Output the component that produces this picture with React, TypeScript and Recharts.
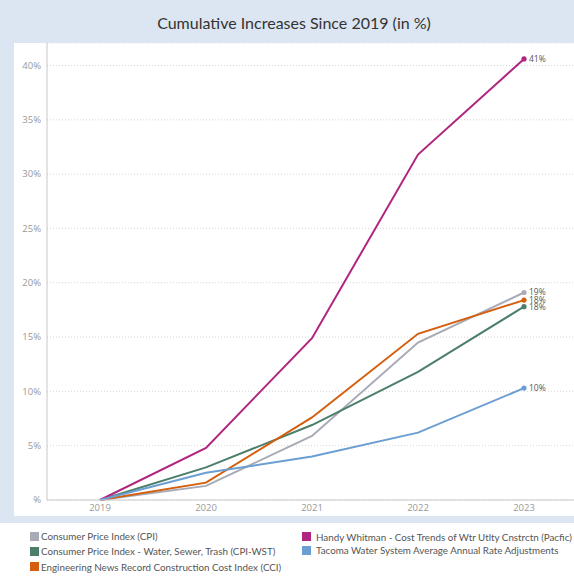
import React from "react";
import { LineChart, Line, XAxis, YAxis, CartesianGrid } from "recharts";

const years = ["2019", "2020", "2021", "2022", "2023"];
const cpi = [0, 1.3, 5.9, 14.5, 19.1];
const handyWhitman = [0, 4.8, 14.9, 31.8, 40.6];
const cpiWst = [0, 3.0, 6.9, 11.8, 17.8];
const cci = [0, 1.6, 7.6, 15.3, 18.4];
const tacoma = [0, 2.5, 4.0, 6.2, 10.3];
const yTicks = [0, 5, 10, 15, 20, 25, 30, 35, 40];

const seriesDefs = [
  { key: "cpi", name: "Consumer Price Index (CPI)", color: "#a8abb6", values: cpi },
  { key: "wst", name: "Consumer Price Index - Water, Sewer, Trash (CPI-WST)", color: "#4b7f6a", values: cpiWst },
  { key: "cci", name: "Engineering News Record Construction Cost Index (CCI)", color: "#d35e0e", values: cci },
  { key: "hw", name: "Handy Whitman - Cost Trends of Wtr Utlty Cnstrctn (Pacfic)", color: "#b0267f", values: handyWhitman },
  { key: "tac", name: "Tacoma Water System Average Annual Rate Adjustments", color: "#6b9ed2", values: tacoma },
];

const data = years.map((y, i) => {
  const row: Record<string, any> = { year: y };
  seriesDefs.forEach((s) => (row[s.key] = s.values[i]));
  return row;
});

const FONT = "'Open Sans', sans-serif";
const LFONT = "Lato, sans-serif";
const BLUE = "#dbe6f2";

const makeDot = (color: string) => (props: any) => {
  const { cx, cy, index } = props;
  if (index !== years.length - 1) return <g key={`d${index}`} />;
  return <circle key={`d${index}`} cx={cx} cy={cy} r={2.6} fill={color} />;
};

const makeLabel = () => (props: any) => {
  const { x, y, index, value } = props;
  if (index !== years.length - 1) return <g key={`l${index}`} />;
  return (
    <text key={`l${index}`} x={x + 5} y={y} dy="0.35em" fontSize={8.5} fill="#555" fontFamily={FONT}>
      {Math.round(value)}%
    </text>
  );
};

const legendCol1 = [seriesDefs[0], seriesDefs[1], seriesDefs[2]];
const legendCol2 = [seriesDefs[3], seriesDefs[4]];

export default function App() {
  return (
    <div style={{ position: "absolute", left: 0, top: 0, width: 574, height: 576, background: "#fff", fontFamily: LFONT, overflow: "hidden" }}>
      <div style={{ position: "absolute", left: 0, top: 0, width: 574, height: 523, background: BLUE }} />
      <div style={{ position: "absolute", left: 14, top: 0, width: 560, height: 43, display: "flex", alignItems: "center", justifyContent: "center", fontSize: 16, color: "#333", paddingTop: 2, boxSizing: "border-box" }}>
        Cumulative Increases Since 2019 (in %)
      </div>
      <div style={{ position: "absolute", left: 14, top: 43, width: 560, height: 473, background: "#fff", overflow: "hidden" }}>
        <LineChart width={563} height={473} data={data} margin={{ top: 0, right: 0, bottom: 0, left: 0 }}>
          <CartesianGrid vertical={false} stroke="#d8d8d8" strokeDasharray="1 2" />
          <XAxis
            dataKey="year"
            padding={{ left: 53, right: 53 }}
            height={16}
            tickLine={false}
            tickSize={4}
            tickMargin={0}
            stroke="#c8c8c8"
            tick={{ fontSize: 9.5, fill: "#999", fontFamily: FONT }}
          />
          <YAxis
            width={33}
            domain={[0, 42.07]}
            ticks={yTicks}
            tickLine={false}
            tickSize={6}
            tickMargin={0}
            stroke="#c8c8c8"
            tickFormatter={(v: number) => (v === 0 ? "%" : `${v}%`)}
            tick={{ fontSize: 9.5, fill: "#999", fontFamily: FONT }}
          />
          {seriesDefs.map((s) => (
            <Line
              key={s.key}
              dataKey={s.key}
              name={s.name}
              stroke={s.color}
              strokeWidth={2}
              isAnimationActive={false}
              dot={makeDot(s.color)}
              activeDot={false}
              label={makeLabel()}
            />
          ))}
        </LineChart>
      </div>
      <div style={{ position: "absolute", left: 30, top: 528.5, fontSize: 9.8, color: "#555" }}>
        {legendCol1.map((s) => (
          <div key={s.key} style={{ display: "flex", alignItems: "center", height: 15.3 }}>
            <div style={{ width: 9, height: 9, background: s.color, marginRight: 2, flexShrink: 0 }} />
            <span style={{ whiteSpace: "nowrap" }}>{s.name}</span>
          </div>
        ))}
      </div>
      <div style={{ position: "absolute", left: 302, top: 530, width: 272, fontSize: 9.8, color: "#555" }}>
        {legendCol2.map((s) => (
          <div key={s.key} style={{ display: "flex", alignItems: "center", height: 13.5 }}>
            <div style={{ width: 9, height: 9, background: s.color, marginRight: 5, flexShrink: 0 }} />
            <span style={{ whiteSpace: "nowrap" }}>{s.name}</span>
          </div>
        ))}
      </div>
    </div>
  );
}
